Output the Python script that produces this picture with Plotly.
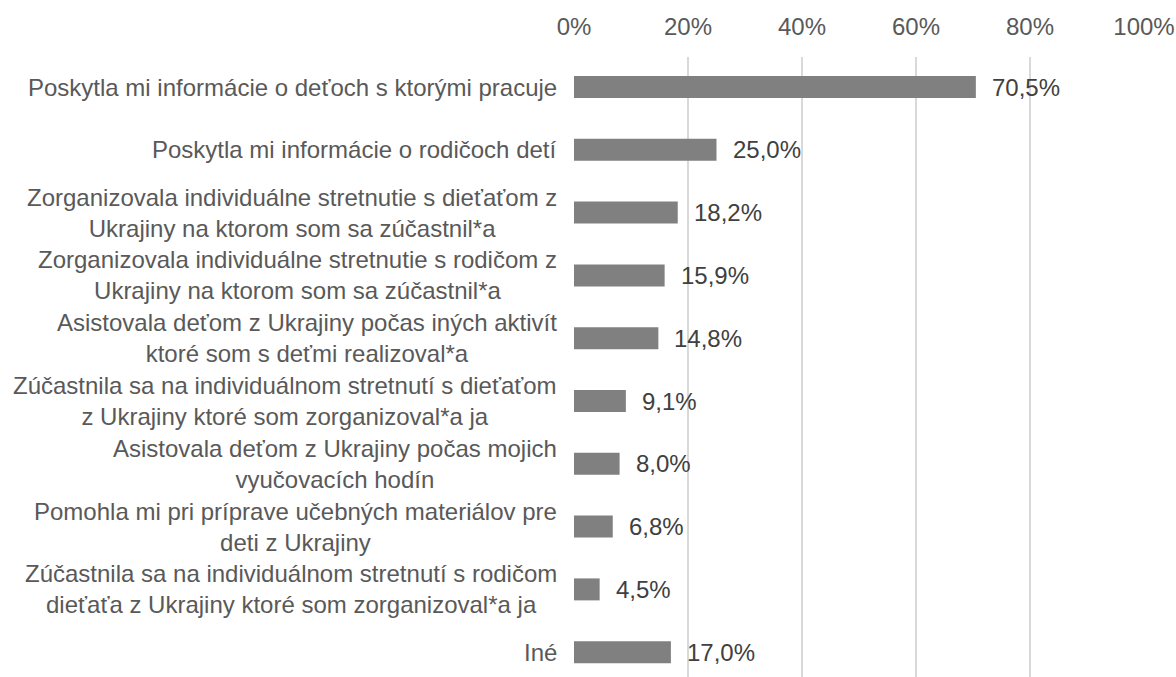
import plotly.graph_objects as go

categories = [
    "Poskytla mi informácie o deťoch s ktorými pracuje",
    "Poskytla mi informácie o rodičoch detí",
    "Zorganizovala individuálne stretnutie s dieťaťom z<br>Ukrajiny na ktorom som sa zúčastnil*a",
    "Zorganizovala individuálne stretnutie s rodičom z<br>Ukrajiny na ktorom som sa zúčastnil*a",
    "Asistovala deťom z Ukrajiny počas iných aktivít<br>ktoré som s deťmi realizoval*a",
    "Zúčastnila sa na individuálnom stretnutí s dieťaťom<br>z Ukrajiny ktoré som zorganizoval*a ja",
    "Asistovala deťom z Ukrajiny počas mojich<br>vyučovacích hodín",
    "Pomohla mi pri príprave učebných materiálov pre<br>deti z Ukrajiny",
    "Zúčastnila sa na individuálnom stretnutí s rodičom<br>dieťaťa z Ukrajiny ktoré som zorganizoval*a ja",
    "Iné",
]
values = [70.5, 25.0, 18.2, 15.9, 14.8, 9.1, 8.0, 6.8, 4.5, 17.0]
tick_vals = [0, 20, 40, 60, 80, 100]
tick_text = ["0%", "20%", "40%", "60%", "80%", "100%"]

FONT = "Liberation Sans, Arial, sans-serif"
TXT = "#595959"
VAL_TXT = "#404040"
FS = 24

fig = go.Figure(go.Bar(
    x=values, y=categories, orientation="h",
    marker=dict(color="#808080", line=dict(width=0)),
    hoverinfo="skip",
))

annotations = []
for c, v in zip(categories, values):
    annotations.append(dict(
        x=v, y=c, xref="x", yref="y", xanchor="left", yanchor="middle",
        xshift=14, yshift=0, showarrow=False,
        text=f"{v:.1f}".replace(".", ",") + "%",
        font=dict(family=FONT, size=FS, color=VAL_TXT),
    ))
    annotations.append(dict(
        x=0, y=c, xref="paper", yref="y", xanchor="right", yanchor="middle",
        xshift=-15, showarrow=False, align="center",
        text=c,
        font=dict(family=FONT, size=FS, color=TXT),
    ))

fig.update_layout(
    width=1176, height=677,
    margin=dict(l=574, r=32, t=57, b=0),
    paper_bgcolor="white", plot_bgcolor="white",
    bargap=0.65,
    showlegend=False,
    annotations=annotations,
    xaxis=dict(
        side="top", range=[0, 100], tickvals=tick_vals, ticktext=tick_text,
        showgrid=True, gridcolor="#d9d9d9", gridwidth=1.5,
        zeroline=False, showline=False, ticks="",
        tickfont=dict(family=FONT, size=FS, color=TXT),
        ticklabelstandoff=16,
        fixedrange=True,
    ),
    yaxis=dict(
        categoryorder="array", categoryarray=categories,
        range=[9.395, -0.478],
        showticklabels=False, showgrid=False, zeroline=False, showline=False,
        ticks="", fixedrange=True,
    ),
)

fig.write_html("out.html", config={"displayModeBar": False},
               post_script="document.body.style.margin='0';")
